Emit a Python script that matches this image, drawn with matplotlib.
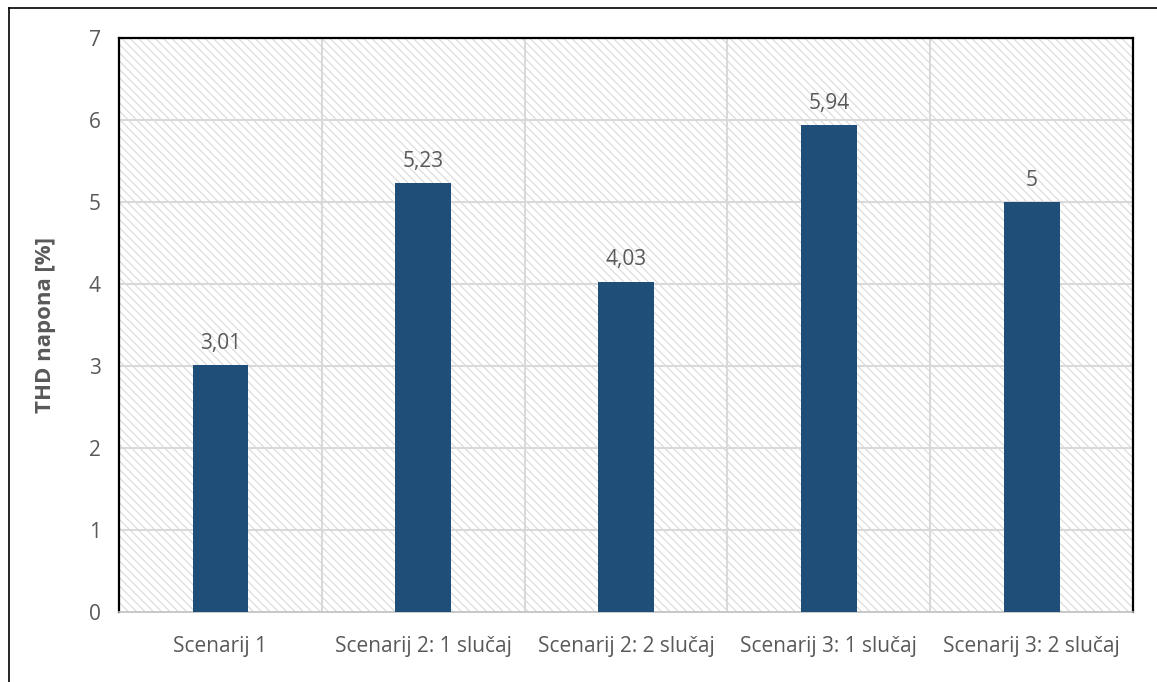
import matplotlib
matplotlib.use('Agg')
import matplotlib.pyplot as plt
from matplotlib.patches import Rectangle
from matplotlib.lines import Line2D

# chart data
categories = ['Scenarij 1', 'Scenarij 2: 1 slučaj', 'Scenarij 2: 2 slučaj',
              'Scenarij 3: 1 slučaj', 'Scenarij 3: 2 slučaj']
values = [3.01, 5.23, 4.03, 5.94, 5.00]
value_labels = ['3,01', '5,23', '4,03', '5,94', '5']
y_ticks = [0, 1, 2, 3, 4, 5, 6, 7]

text_col = '#595959'
bar_col = '#1F4E79'
grid_col = '#D9D9D9'

plt.rcParams['font.family'] = ['Open Sans', 'DejaVu Sans']
plt.rcParams['hatch.color'] = '#D9D9D9'
plt.rcParams['hatch.linewidth'] = 0.8

fig = plt.figure(figsize=(11.57, 6.82), dpi=100)
ax = fig.add_axes([0.1029, 0.1026, 0.8764, 0.8417])

# hatched plot area background
bg = Rectangle((0, 0), 1, 1, transform=ax.transAxes, facecolor='white',
               edgecolor='#D9D9D9', hatch='\\\\\\\\', linewidth=0, zorder=0)
ax.add_patch(bg)

x = list(range(len(categories)))
ax.bar(x, values, width=0.275, color=bar_col, zorder=3)

for xi, v, lab in zip(x, values, value_labels):
    ax.annotate(lab, (xi, v), xytext=(0, 8), textcoords='offset points',
                ha='center', va='bottom', fontsize=15, color=text_col, zorder=4)

ax.set_xlim(-0.5, len(categories) - 0.5)
ax.set_ylim(0, 7)
ax.set_yticks(y_ticks)
ax.set_yticklabels([str(t) for t in y_ticks])
ax.set_xticks(x)
ax.set_xticklabels(categories)

# gridlines: horizontal at ticks, vertical between categories
for t in y_ticks[1:-1]:
    ax.axhline(t, color=grid_col, lw=1.5, zorder=1)
for b in range(1, len(categories)):
    ax.axvline(b - 0.5, color=grid_col, lw=1.5, zorder=1)

ax.tick_params(axis='both', length=0, labelsize=15, labelcolor=text_col)
ax.tick_params(axis='x', pad=17)
ax.tick_params(axis='y', pad=13)

for s in ['left', 'top', 'right']:
    ax.spines[s].set_color('black')
    ax.spines[s].set_linewidth(1.6)
ax.spines['bottom'].set_color('#BFBFBF')
ax.spines['bottom'].set_linewidth(1.2)

ax.set_ylabel('THD napona [%]', fontsize=16, fontweight='bold', color=text_col,
              labelpad=24)

# outer chart border (top and left visible)
fig.add_artist(Line2D([9 / 1157, 1], [1 - 8 / 682, 1 - 8 / 682],
                      transform=fig.transFigure, color='black', lw=1.2))
fig.add_artist(Line2D([9 / 1157, 9 / 1157], [0, 1 - 8 / 682],
                      transform=fig.transFigure, color='black', lw=1.2))

fig.savefig('out.png', dpi=100)
